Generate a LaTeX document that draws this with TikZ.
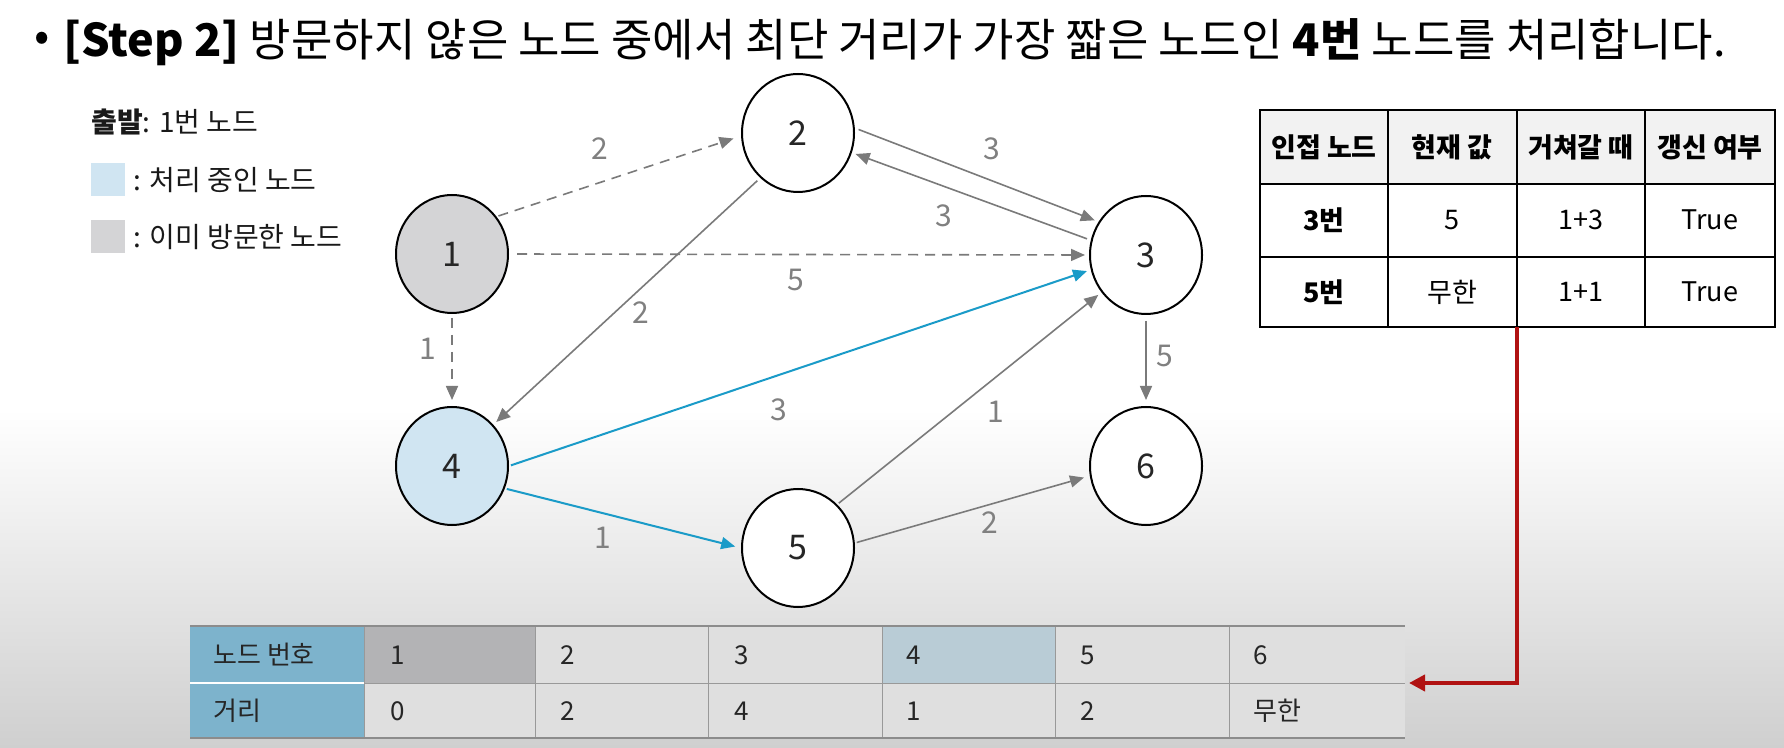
\documentclass[tikz,border=0pt]{standalone}
\usepackage{fontspec}
\setmainfont{Noto Sans CJK KR}
\usetikzlibrary{arrows.meta,shapes.geometric}
\definecolor{bggray}{HTML}{CFCFCF}
\definecolor{edgegray}{HTML}{7A7A7A}
\definecolor{labelgray}{HTML}{808080}
\definecolor{edgeblue}{HTML}{1A9BC8}
\definecolor{visitgray}{HTML}{D4D4D6}
\definecolor{procblue}{HTML}{D0E5F2}
\definecolor{hdrblue}{HTML}{7DB3CC}
\definecolor{cellgray}{HTML}{DFDFDF}
\definecolor{cellvisit}{HTML}{B3B3B5}
\definecolor{cellproc}{HTML}{B9CCD6}
\definecolor{arrowred}{HTML}{B01212}
\definecolor{thead}{HTML}{F2F2F2}
\begin{document}
\begin{tikzpicture}[x=0.5pt,y=-0.5pt]
\tikzset{
  gnode/.style={ellipse, draw=black, line width=1pt, minimum width=56pt, minimum height=59pt, inner sep=0pt, font=\fontsize{17}{17}\selectfont, text=black!85},
  gedge/.style={draw=edgegray, line width=0.8pt, -{Triangle[length=7pt,width=6pt]}},
  dashedge/.style={gedge, dash pattern=on 5pt off 3.5pt},
  bedge/.style={draw=edgeblue, line width=1pt, -{Triangle[length=7pt,width=6pt]}},
  elabel/.style={text=labelgray, font=\fontsize{15}{15}\selectfont, inner sep=0pt},
  legtext/.style={anchor=west, inner sep=0pt, font=\fontsize{14}{14}\selectfont, text=black!90},
  thcell/.style={inner sep=0pt, font=\fontsize{13.5}{13.5}\selectfont\bfseries, text=black},
  tdcell/.style={inner sep=0pt, font=\fontsize{13.5}{13.5}\selectfont, text=black},
  tline/.style={draw=black, line width=0.8pt},
  bcell/.style={anchor=west, inner sep=0pt, font=\fontsize{13}{13}\selectfont, text=black!85},
  bline/.style={draw=gray!80, line width=0.5pt},
  redarrow/.style={draw=arrowred, line width=2pt, -{Triangle[length=8pt,width=8pt]}},
}
\useasboundingbox (0,0) rectangle (1784,748);
\fill[white] (0,0) rectangle (1784,410);
\shade[top color=white, bottom color=bggray] (0,409) rectangle (1784,748);

% title
\node[anchor=west, inner sep=0pt, font=\fontsize{22.5}{22.5}\selectfont] (bullet) at (34,42) {•};
\node[anchor=west, inner sep=0pt, font=\fontsize{22.5}{22.5}\selectfont] (title) at (63,42)
  {\textbf{[Step 2]} 방문하지 않은 노드 중에서 최단 거리가 가장 짧은 노드인 \textbf{4번} 노드를 처리합니다.};

% legend
\node[legtext] (leg0) at (91,122) {\textbf{출발}: 1번 노드};
\fill[procblue] (91,163) rectangle (125,196);
\node[legtext] (leg1) at (133,180) {: 처리 중인 노드};
\fill[visitgray] (91,220) rectangle (125,253);
\node[legtext] (leg2) at (133,237) {: 이미 방문한 노드};

% graph nodes
\node[gnode, fill=visitgray] (n1) at (452,254) {1};
\node[gnode, fill=white] (n2) at (798,133) {2};
\node[gnode, fill=white] (n3) at (1146,255) {3};
\node[gnode, fill=procblue] (n4) at (452,466) {4};
\node[gnode, fill=white] (n5) at (798,548) {5};
\node[gnode, fill=white] (n6) at (1146,466) {6};

% edges
\draw[dashedge, shorten >=4pt, shorten <=1pt] (n1.40) -- (n2.183);
\draw[dashedge, shorten >=2pt, shorten <=4pt] (n1.0) -- (n3.180);
\draw[dashedge, shorten >=3pt, shorten <=2pt] (n1.-90) -- (n4.90);
\draw[gedge, shorten >=2pt, shorten <=2pt] (n2.5) -- (n3.145);
\draw[gedge, shorten >=2pt, shorten <=2pt] (n3.165) -- (n2.-20);
\draw[gedge, shorten >=2pt, shorten <=2pt] (n2.-130) -- (n4.45);
\draw[bedge, shorten >=2pt, shorten <=1pt] (n4.0) -- (n3.-165);
\draw[bedge, shorten >=3pt, shorten <=1pt] (n4.-23) -- (n5.180);
\draw[gedge, shorten >=2pt, shorten <=1pt] (n5.48) -- (n3.-140);
\draw[gedge, shorten >=3pt, shorten <=1pt] (n5.5) -- (n6.-170);
\draw[gedge, shorten >=3pt, shorten <=3pt] (n3.-90) -- (n6.90);

% edge labels
\node[elabel] (l12) at (600,149) {2};
\node[elabel] (l13) at (796,280) {5};
\node[elabel] (l14) at (428,349) {1};
\node[elabel] (l23) at (992,149) {3};
\node[elabel] (l32) at (944,216) {3};
\node[elabel] (l24) at (641,313) {2};
\node[elabel] (l43) at (779,410) {3};
\node[elabel] (l45) at (603,538) {1};
\node[elabel] (l53) at (996,412) {1};
\node[elabel] (l56) at (990,523) {2};
\node[elabel] (l36) at (1165,356) {5};

% right table
\fill[thead] (1260,110) rectangle (1775,184);
\fill[white] (1260,184) rectangle (1775,327);
\draw[tline] (1260,110) rectangle (1775,327);
\draw[tline] (1260,184) -- (1775,184);
\draw[tline] (1260,257) -- (1775,257);
\draw[tline] (1388,110) -- (1388,327);
\draw[tline] (1517,110) -- (1517,327);
\draw[tline] (1645,110) -- (1645,327);
\node[thcell] (h1) at (1324,147) {인접 노드};
\node[thcell] (h2) at (1452,147) {현재 값};
\node[thcell] (h3) at (1581,147) {거쳐갈 때};
\node[thcell] (h4) at (1710,147) {갱신 여부};
\node[thcell] (r11) at (1324,220) {3번};
\node[tdcell] (r12) at (1452,220) {5};
\node[tdcell] (r13) at (1581,220) {1+3};
\node[tdcell] (r14) at (1710,220) {True};
\node[thcell] (r21) at (1324,292) {5번};
\node[tdcell] (r22) at (1452,292) {무한};
\node[tdcell] (r23) at (1581,292) {1+1};
\node[tdcell] (r24) at (1710,292) {True};
\coordinate (tbot) at (1517,327);

% bottom table
\fill[hdrblue] (190,626) rectangle (364,738);
\fill[cellgray] (364,626) rectangle (1405,738);
\fill[cellvisit] (364,626) rectangle (535,683);
\fill[cellproc] (882,626) rectangle (1055,683);
\draw[white, line width=0.6pt] (190,683) -- (364,683);
\draw[bline] (364,683) -- (1405,683);
\foreach \xx in {535,708,882,1055,1229} { \draw[bline] (\xx,626) -- (\xx,738); }
\draw[bline] (364,626) -- (364,738);
\draw[draw=gray!90, line width=0.8pt] (190,626) -- (1405,626);
\draw[draw=gray!90, line width=0.8pt] (190,738) -- (1405,738);
\node[bcell] (b0) at (213,655) {노드 번호};
\node[bcell] (b1) at (390,655) {1};
\node[bcell] (b2) at (560,655) {2};
\node[bcell] (b3) at (734,655) {3};
\node[bcell] (b4) at (906,655) {4};
\node[bcell] (b5) at (1080,655) {5};
\node[bcell] (b6) at (1253,655) {6};
\node[bcell] (c0) at (213,711) {거리};
\node[bcell] (c1) at (390,711) {0};
\node[bcell] (c2) at (560,711) {2};
\node[bcell] (c3) at (734,711) {4};
\node[bcell] (c4) at (906,711) {1};
\node[bcell] (c5) at (1080,711) {2};
\node[bcell] (c6) at (1253,711) {무한};
\coordinate (tend) at (1409,683);

% red connector
\draw[redarrow] (tbot) |- (tend);
\end{tikzpicture}
\end{document}
